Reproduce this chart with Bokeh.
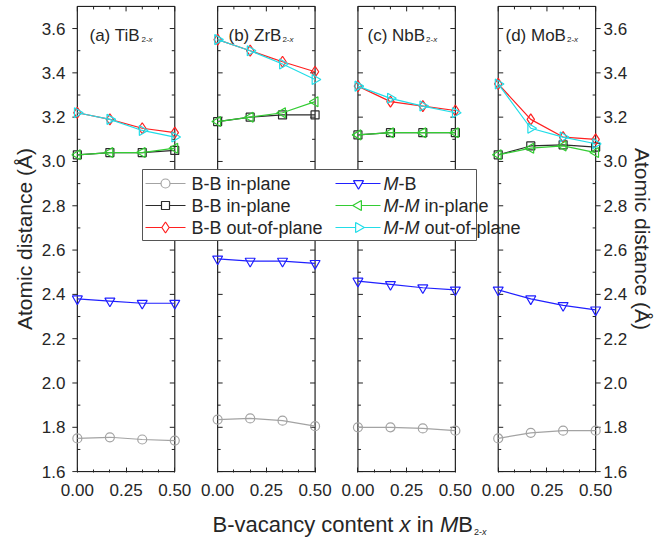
import math
from bokeh.plotting import figure
from bokeh.layouts import column
from bokeh.models import (Range1d, LinearAxis, FixedTicker, PrintfTickFormatter,
                          CustomJSTickFormatter)
from bokeh.embed import file_html
from bokeh.resources import INLINE
from bokeh.core.properties import value

# ---------------- data ----------------
x_content = [0.0, 0.167, 0.333, 0.5]
panel_tags = ["(a)", "(b)", "(c)", "(d)"]
metals = ["Ti", "Zr", "Nb", "Mo"]

bb_in_gray = [[1.750, 1.755, 1.745, 1.740],
              [1.835, 1.840, 1.830, 1.805],
              [1.800, 1.800, 1.795, 1.785],
              [1.750, 1.775, 1.785, 1.785]]
bb_in_black = [[3.03, 3.04, 3.04, 3.05],
               [3.18, 3.20, 3.21, 3.21],
               [3.12, 3.13, 3.13, 3.13],
               [3.03, 3.07, 3.075, 3.065]]
bb_out = [[3.22, 3.19, 3.15, 3.13],
          [3.55, 3.50, 3.45, 3.405],
          [3.34, 3.27, 3.25, 3.23],
          [3.35, 3.19, 3.11, 3.10]]
m_b = [[2.38, 2.37, 2.36, 2.36],
       [2.56, 2.55, 2.55, 2.54],
       [2.46, 2.445, 2.43, 2.42],
       [2.42, 2.38, 2.35, 2.33]]
mm_in = [[3.03, 3.04, 3.04, 3.06],
         [3.18, 3.20, 3.22, 3.27],
         [3.12, 3.13, 3.13, 3.13],
         [3.03, 3.06, 3.07, 3.04]]
mm_out = [[3.22, 3.19, 3.14, 3.11],
          [3.55, 3.50, 3.44, 3.37],
          [3.34, 3.285, 3.25, 3.22],
          [3.35, 3.15, 3.11, 3.08]]

x_tick_values = [0.0, 0.25, 0.5]
x_tick_labels = ["0.00", "0.25", "0.50"]
x_minor_values = [0.0833, 0.1667, 0.3333, 0.4167]
y_tick_values = [1.6, 1.8, 2.0, 2.2, 2.4, 2.6, 2.8, 3.0, 3.2, 3.4, 3.6]
y_minor_values = [1.7, 1.9, 2.1, 2.3, 2.5, 2.7, 2.9, 3.1, 3.3, 3.5]
y_bottom, y_top = 1.6, 3.7

series_labels = [
    [("B-B in-plane", False)],
    [("B-B in-plane", False)],
    [("B-B out-of-plane", False)],
    [("M", True), ("-B", False)],
    [("M", True), ("-", False), ("M", True), (" in-plane", False)],
    [("M", True), ("-", False), ("M", True), (" out-of-plane", False)],
]
series_data = [bb_in_gray, bb_in_black, bb_out, m_b, mm_in, mm_out]
x_label_parts = [("B-vacancy content ", False), ("x", True), (" in ", False),
                 ("M", True), ("B", False)]
y_label = "Atomic distance (Å)"

# ---------------- style ----------------
series_colors = ["#a3a3a3", "#2b2b2b", "#ff2020", "#2020ff", "#33cc33", "#22dde8"]
series_markers = ["circle", "square", "diamond", "inverted_triangle", "triangle", "triangle"]
series_angles = [0.0, 0.0, 0.0, 0.0, math.pi / 2, -math.pi / 2]
series_sizes = [9, 8, 11, 10, 10, 10]

FONT = "Liberation Sans"
TXT = "#262626"
AX = "#222222"

W, H = 654, 542
LABEL_H = 37
PANEL_W = 0.5
PANEL_STEP = 0.72
offsets = [i * PANEL_STEP for i in range(4)]
X_LO, X_HI = -0.03, 3 * PANEL_STEP + PANEL_W + 0.03
Y_LO, Y_HI = 1.596, 3.704
FW, FH = 530, 467
BL, BT = 71, 5
BR = W - BL - FW
BB = H - LABEL_H - BT - FH
SX = FW / (X_HI - X_LO)
SY = FH / (Y_HI - Y_LO)


def px_x(px):
    return X_LO + (px - BL) / SX


def px_y(py):
    return Y_HI - (py - BT) / SY


ARIAL = {" ": 278, "(": 333, ")": 333, "-": 333, ".": 278, "a": 556, "b": 556,
         "c": 500, "d": 556, "e": 556, "f": 278, "i": 222, "l": 222, "m": 833,
         "n": 556, "o": 556, "p": 556, "r": 333, "s": 500, "t": 278, "u": 556,
         "v": 500, "x": 500, "y": 500, "z": 500, "A": 667, "B": 667, "M": 833,
         "N": 722, "T": 611, "Z": 611, "2": 556}


def tw(s, size):
    return sum(ARIAL.get(c, 556) for c in s) / 1000.0 * size


def rich_text(fig, parts, x_start, y, size, baseline, conv_y):
    cx = x_start
    for piece, ital in parts:
        lead = len(piece) - len(piece.lstrip(" "))
        cx += tw(" " * lead, size)
        body = piece.lstrip(" ")
        fig.text(x=[px_x(cx)], y=[conv_y(y)], text=[body], text_font=value(FONT),
                 text_font_size=f"{size}px", text_color=TXT, text_baseline=baseline,
                 text_align="left", text_font_style="italic" if ital else "normal")
        cx += tw(body, size)
    return cx


p = figure(frame_width=FW, frame_height=FH,
           x_range=Range1d(X_LO, X_HI), y_range=Range1d(Y_LO, Y_HI),
           output_backend="svg", toolbar_location=None, title=None,
           min_border_left=BL, min_border_right=BR,
           min_border_top=BT, min_border_bottom=BB)
p.outline_line_color = None
p.xgrid.visible = False
p.ygrid.visible = False
p.background_fill_color = "white"
p.border_fill_color = "white"

# bottom axis (tick labels per panel)
all_ticks, all_labels, all_minor = [], [], []
for off in offsets:
    for v, l in zip(x_tick_values, x_tick_labels):
        all_ticks.append(off + v)
        all_labels.append(l)
    for v in x_minor_values:
        all_minor.append(off + v)
xa = p.xaxis[0]
xa.ticker = FixedTicker(ticks=all_ticks, minor_ticks=all_minor)
xa.formatter = CustomJSTickFormatter(args=dict(tv=all_ticks, tl=all_labels), code="""
for (let i = 0; i < tv.length; i++) { if (Math.abs(tv[i] - tick) < 1e-6) { return tl[i]; } }
return "";
""")
xa.axis_line_color = None
xa.major_tick_in = 5
xa.major_tick_out = 0
xa.minor_tick_in = 3
xa.minor_tick_out = 0
xa.major_tick_line_color = AX
xa.minor_tick_line_color = AX
xa.major_label_standoff = 11
xa.major_label_text_font = FONT
xa.major_label_text_font_size = "17px"
xa.major_label_text_color = TXT


def style_y(ax, standoff):
    ax.ticker = FixedTicker(ticks=y_tick_values, minor_ticks=y_minor_values)
    ax.formatter = PrintfTickFormatter(format="%.1f")
    ax.axis_line_color = None
    ax.major_tick_line_color = None
    ax.minor_tick_line_color = None
    ax.major_tick_in = 0
    ax.major_tick_out = 0
    ax.minor_tick_in = 0
    ax.minor_tick_out = 0
    ax.major_label_standoff = standoff
    ax.major_label_text_font = FONT
    ax.major_label_text_font_size = "17px"
    ax.major_label_text_color = TXT
    ax.axis_label = y_label
    ax.axis_label_text_font = FONT
    ax.axis_label_text_font_size = "21px"
    ax.axis_label_text_font_style = "normal"
    ax.axis_label_text_color = TXT
    ax.axis_label_standoff = 3


style_y(p.yaxis[0], 6)
ra = LinearAxis()
style_y(ra, 2)
ra.axis_label_standoff = 1
p.add_layout(ra, "right")

# panel frames
p.quad(left=offsets, right=[o + PANEL_W for o in offsets],
       bottom=y_bottom, top=y_top, fill_color=None, line_color=AX, line_width=1.2)

# ticks on panel edges
MAJ, MIN = 5, 3
x0, y0, x1, y1 = [], [], [], []
for i, off in enumerate(offsets):
    left, right = off, off + PANEL_W
    for yv in y_tick_values:
        x0.append(left); y0.append(yv); y1.append(yv)
        x1.append(left - MAJ / SX if i == 0 else left + MAJ / SX)
        x0.append(right); y0.append(yv); y1.append(yv)
        x1.append(right + MAJ / SX if i == 3 else right - MAJ / SX)
    for yv in y_minor_values:
        x0 += [left, right]; y0 += [yv, yv]; y1 += [yv, yv]
        x1 += [left + MIN / SX, right - MIN / SX]
    for xv in x_tick_values:
        x0.append(off + xv); x1.append(off + xv); y0.append(y_top); y1.append(y_top - MAJ / SY)
    for xv in x_minor_values:
        x0.append(off + xv); x1.append(off + xv); y0.append(y_top); y1.append(y_top - MIN / SY)
p.segment(x0=x0, y0=y0, x1=x1, y1=y1, line_color=AX, line_width=1)

# data series
for data, col, mk, ang, sz in zip(series_data, series_colors, series_markers,
                                   series_angles, series_sizes):
    for i, off in enumerate(offsets):
        xs = [off + x for x in x_content]
        p.line(xs, data[i], line_color=col, line_width=1.2)
        p.scatter(xs, data[i], marker=mk, size=sz, angle=ang, line_color=col,
                  fill_color=None, line_width=1.2)

# panel titles
title_px = [89, 228, 367, 505]
for i, (tag, metal) in enumerate(zip(panel_tags, metals)):
    end = rich_text(p, [(f"{tag} {metal}B", False)], title_px[i], 35, 17, "alphabetic", px_y)
    rich_text(p, [("2-", False), ("x", True)], end + 1, 39, 8, "alphabetic", px_y)

# legend
p.quad(left=px_x(142), right=px_x(476), top=px_y(169), bottom=px_y(240),
       fill_color="white", line_color="#555555", line_width=1)
cols = [(145, 165, 185, 191), (335, 358, 380, 383)]
rows = [183, 205, 227]
for k in range(6):
    c = cols[k // 3]
    ry = px_y(rows[k % 3])
    p.line([px_x(c[0]), px_x(c[2])], [ry, ry], line_color=series_colors[k], line_width=1.2)
    p.scatter([px_x(c[1])], [ry], marker=series_markers[k], size=series_sizes[k],
              angle=series_angles[k], line_color=series_colors[k], fill_color="white",
              line_width=1.2)
    rich_text(p, series_labels[k], c[3], rows[k % 3], 18, "middle", px_y)

# x axis title strip: same horizontal frame as the main plot, y in pixels (downward)
top0 = H - LABEL_H
q = figure(frame_width=FW, frame_height=LABEL_H,
           x_range=Range1d(X_LO, X_HI), y_range=Range1d(LABEL_H, 0),
           output_backend="svg", toolbar_location=None, title=None,
           x_axis_location=None, y_axis_location=None,
           min_border_left=BL, min_border_right=BR, min_border_top=0, min_border_bottom=0)
q.outline_line_color = None
q.xgrid.visible = False
q.ygrid.visible = False
q.background_fill_color = "white"
q.border_fill_color = "white"
to_strip = lambda py: py - top0
end = rich_text(q, x_label_parts, 212, 524, 22, "alphabetic", to_strip)
rich_text(q, [("2-", False), ("x", True)], end + 1, 531, 9, "alphabetic", to_strip)

layout = column(p, q, spacing=0)
open("out.html", "w").write(file_html(layout, INLINE))
